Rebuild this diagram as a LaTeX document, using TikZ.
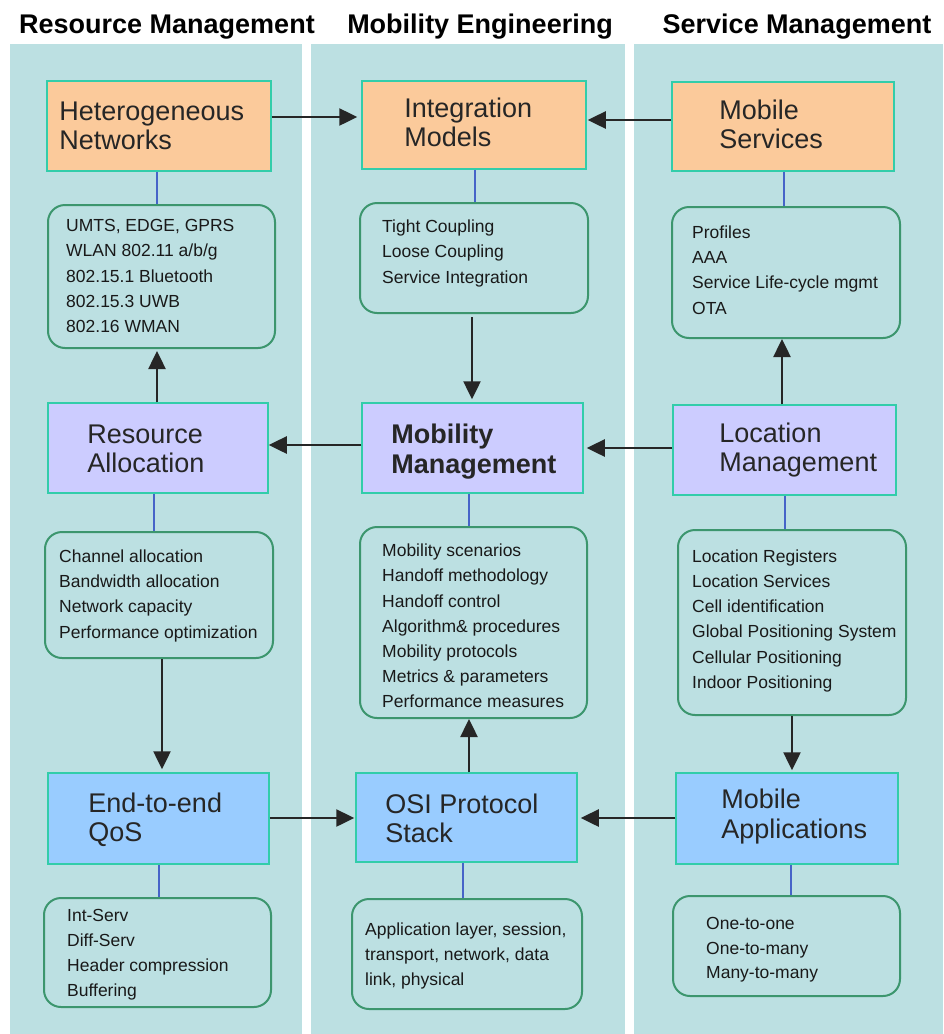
\documentclass[tikz,border=0pt]{standalone}
\usepackage{fontspec}
\setmainfont{Liberation Sans}
\usetikzlibrary{arrows.meta}

\definecolor{bandc}{RGB}{188,224,226}
\definecolor{orangec}{RGB}{251,202,155}
\definecolor{lavc}{RGB}{204,204,255}
\definecolor{bluec}{RGB}{153,204,255}
\definecolor{edgec}{RGB}{50,205,170}
\definecolor{listc}{RGB}{60,150,110}
\definecolor{tiec}{RGB}{70,100,200}

\begin{document}
\begin{tikzpicture}[x=1pt,y=-1pt,
  band/.style={fill=bandc,draw=none},
  head/.style={font=\fontsize{27}{30}\selectfont\bfseries,anchor=base,inner sep=0pt},
  topic/.style={draw=edgec,line width=1.5pt,inner sep=0pt},
  listbox/.style={draw=listc,line width=2pt,rounded corners=17pt,inner sep=0pt},
  ttl/.style={font=\fontsize{27}{29.5}\selectfont,align=left,inner sep=0pt,
    anchor=west,text=black!85,text depth=0pt},
  itm/.style={font=\fontsize{17.5}{25.2}\selectfont,align=left,inner sep=0pt,
    anchor=west,text=black!90,text depth=0pt},
  arr/.style={-{Triangle[length=18pt,width=17pt]},line width=2.5pt,black!85},
  tie/.style={line width=1.5pt,tiec}]

% page and the three column bands
\useasboundingbox (0,0) rectangle (943,1034);
\fill[white] (0,0) rectangle (943,1034);
\fill[band] (10,44) rectangle (302,1034);
\fill[band] (311,44) rectangle (625,1034);
\fill[band] (634,44) rectangle (943,1034);

% column headings
\node[head] (h1) at (167,33) {Resource Management};
\node[head] (h2) at (480,33) {Mobility Engineering};
\node[head] (h3) at (797,33) {Service Management};

% topic boxes, row 1
\node[topic,fill=orangec,minimum width=224pt,minimum height=90pt] (hn) at (159,126) {};
\node[topic,fill=orangec,minimum width=224pt,minimum height=88pt] (im) at (474,125) {};
\node[topic,fill=orangec,minimum width=222pt,minimum height=89pt] (ms) at (783,126.5) {};
% topic boxes, row 2
\node[topic,fill=lavc,minimum width=220pt,minimum height=90pt] (ra) at (158,448) {};
\node[topic,fill=lavc,minimum width=221pt,minimum height=90pt] (mm) at (472.5,448) {};
\node[topic,fill=lavc,minimum width=223pt,minimum height=90pt] (lm) at (784.5,450) {};
% topic boxes, row 3
\node[topic,fill=bluec,minimum width=221pt,minimum height=91pt] (qos) at (158.5,818.5) {};
\node[topic,fill=bluec,minimum width=221pt,minimum height=89pt] (osi) at (466.5,817.5) {};
\node[topic,fill=bluec,minimum width=222pt,minimum height=91pt] (ma) at (787,818.5) {};

% topic titles
\node[ttl] (hnt) at ([xshift=13pt]hn.west |- 0,125.5) {Heterogeneous\\Networks};
\node[ttl] (imt) at ([xshift=43pt]im.west |- 0,122) {Integration\\Models};
\node[ttl] (mst) at ([xshift=48pt]ms.west |- 0,124) {Mobile\\Services};
\node[ttl] (rat) at ([xshift=40pt]ra.west |- 0,448.5) {Resource\\Allocation};
\node[ttl,font=\fontsize{27}{29.5}\selectfont\bfseries] (mmt) at ([xshift=30pt]mm.west |- 0,448.5) {Mobility\\Management};
\node[ttl] (lmt) at ([xshift=47pt]lm.west |- 0,447) {Location\\Management};
\node[ttl] (qost) at ([xshift=41pt]qos.west |- 0,817) {End-to-end\\QoS};
\node[ttl] (osit) at ([xshift=30pt]osi.west |- 0,818) {OSI Protocol\\Stack};
\node[ttl] (mat) at ([xshift=46pt]ma.west |- 0,813.5) {Mobile\\Applications};

% detail lists
\node[listbox,minimum width=227pt,minimum height=143pt] (l1a) at (161.5,276.5) {};
\node[listbox,minimum width=228pt,minimum height=110pt] (l1b) at (474,258) {};
\node[listbox,minimum width=228pt,minimum height=131pt] (l1c) at (786,272.5) {};
\node[listbox,minimum width=228pt,minimum height=126pt] (l2a) at (159,595) {};
\node[listbox,minimum width=227pt,minimum height=191pt] (l2b) at (473.5,622.5) {};
\node[listbox,minimum width=228pt,minimum height=185pt] (l2c) at (792,622.5) {};
\node[listbox,minimum width=227pt,minimum height=109pt] (l3a) at (157.5,952.5) {};
\node[listbox,minimum width=230pt,minimum height=110pt] (l3b) at (467,954) {};
\node[listbox,minimum width=227pt,minimum height=100pt] (l3c) at (786.5,946) {};

\node[itm] (l1at) at ([xshift=19pt]l1a.west |- 0,276) {UMTS, EDGE, GPRS\\WLAN 802.11 a/b/g\\802.15.1 Bluetooth\\802.15.3 UWB\\802.16 WMAN};
\node[itm] (l1bt) at ([xshift=23pt]l1b.west |- 0,251.5) {Tight Coupling\\Loose Coupling\\Service Integration};
\node[itm] (l1ct) at ([xshift=21pt]l1c.west |- 0,270) {Profiles\\AAA\\Service Life-cycle mgmt\\OTA};
\node[itm] (l2at) at ([xshift=15pt]l2a.west |- 0,594) {Channel allocation\\Bandwidth allocation\\Network capacity\\Performance optimization};
\node[itm] (l2bt) at ([xshift=23pt]l2b.west |- 0,626) {Mobility scenarios\\Handoff methodology\\Handoff control\\Algorithm\& procedures\\Mobility protocols\\Metrics \& parameters\\Performance measures};
\node[itm] (l2ct) at ([xshift=15pt]l2c.west |- 0,619) {Location Registers\\Location Services\\Cell identification\\Global Positioning System\\Cellular Positioning\\Indoor Positioning};
\node[itm,font=\fontsize{17.5}{25}\selectfont] (l3at) at ([xshift=24pt]l3a.west |- 0,953) {Int-Serv\\Diff-Serv\\Header compression\\Buffering};
\node[itm] (l3bt) at ([xshift=14pt]l3b.west |- 0,954) {Application layer, session,\\transport, network, data\\link, physical};
\node[itm,font=\fontsize{17.5}{24.5}\selectfont] (l3ct) at ([xshift=34pt]l3c.west |- 0,948) {One-to-one\\One-to-many\\Many-to-many};

% ties from each topic to its list
\draw[tie] ([xshift=-2pt]hn.south) -- ([xshift=-2pt]hn.south |- l1a.north);
\draw[tie] ([xshift=1pt]im.south) -- ([xshift=1pt]im.south |- l1b.north);
\draw[tie] ([xshift=1pt]ms.south) -- ([xshift=1pt]ms.south |- l1c.north);
\draw[tie] ([xshift=-4pt]ra.south) -- ([xshift=-4pt]ra.south |- l2a.north);
\draw[tie] ([xshift=-3.5pt]mm.south) -- ([xshift=-3.5pt]mm.south |- l2b.north);
\draw[tie] ([xshift=0.5pt]lm.south) -- ([xshift=0.5pt]lm.south |- l2c.north);
\draw[tie] ([xshift=0.5pt]qos.south) -- ([xshift=0.5pt]qos.south |- l3a.north);
\draw[tie] ([xshift=-3.5pt]osi.south) -- ([xshift=-3.5pt]osi.south |- l3b.north);
\draw[tie] ([xshift=4pt]ma.south) -- ([xshift=4pt]ma.south |- l3c.north);

% flow arrows
\draw[arr,shorten >=4pt] ([yshift=9pt]hn.east) -- ([yshift=9pt]hn.east -| im.west);
\draw[arr,shorten >=1pt] ([yshift=6.5pt]ms.west) -- ([yshift=6.5pt]ms.west -| im.east);
\draw[arr,shorten <=3pt,shorten >=3pt] ([xshift=-2pt]l1b.south) -- ([xshift=-2pt]l1b.south |- mm.north);
\draw[arr] ([yshift=3pt]mm.west) -- ([yshift=3pt]mm.west -| ra.east);
\draw[arr,shorten >=3pt] ([yshift=2pt]lm.west) -- ([yshift=2pt]lm.west -| mm.east);
\draw[arr,shorten >=2pt] ([xshift=-1pt]ra.north) -- ([xshift=-1pt]ra.north |- l1a.south);
\draw[arr] ([xshift=-2.5pt]lm.north) -- ([xshift=-2.5pt]lm.north |- l1c.south);
\draw[arr,shorten >=3pt] ([xshift=3pt]l2a.south) -- ([xshift=3pt]l2a.south |- qos.north);
\draw[arr,shorten >=2pt] (l2c.south) -- (l2c.south |- ma.north);
\draw[arr] ([xshift=2.5pt]osi.north) -- ([xshift=2.5pt]osi.north |- l2b.south);
\draw[arr,shorten >=1pt] ([yshift=0.5pt]qos.east) -- ([yshift=0.5pt]qos.east -| osi.west);
\draw[arr,shorten >=3pt] ([yshift=0.5pt]ma.west) -- ([yshift=0.5pt]ma.west -| osi.east);
\end{tikzpicture}
\end{document}
